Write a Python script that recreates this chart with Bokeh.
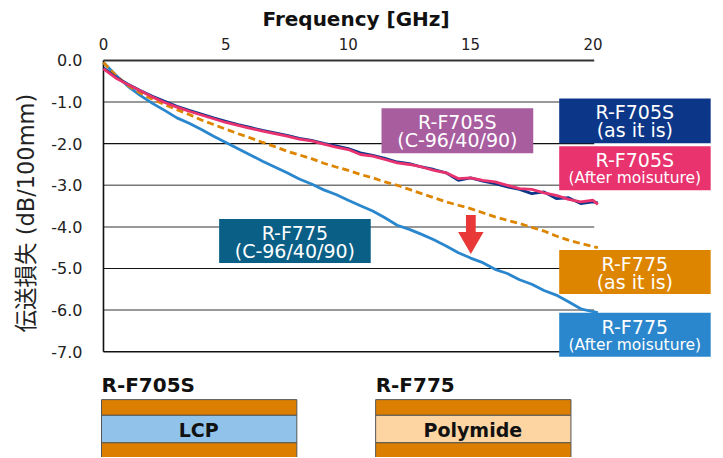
from bokeh.plotting import figure
from bokeh.models import Range1d, FixedTicker, Title, ColumnDataSource
from bokeh.core.properties import value
from bokeh.embed import file_html
from bokeh.resources import INLINE

# ---------------- data ----------------
freq = [0.0, 0.5, 1.0, 1.5, 2.0, 2.5, 3.0, 3.5, 4.0, 4.5, 5.0, 5.5, 6.0, 6.5,
        7.0, 7.5, 8.0, 8.5, 9.0, 9.5, 10.0, 10.5, 11.0, 11.5, 12.0, 12.5,
        13.0, 13.5, 14.0, 14.5, 15.0, 15.5, 16.0, 16.5, 17.0, 17.5, 18.0,
        18.5, 19.0, 19.5, 20.0, 20.2]

f705s_as_is = [-0.18, -0.40, -0.57, -0.72, -0.86, -0.98, -1.10, -1.20, -1.29,
               -1.38, -1.46, -1.54, -1.61, -1.68, -1.74, -1.80, -1.87, -1.92,
               -1.99, -2.05, -2.12, -2.22, -2.28, -2.35, -2.44, -2.48, -2.56,
               -2.62, -2.70, -2.88, -2.82, -2.90, -2.96, -3.04, -3.10, -3.20,
               -3.16, -3.32, -3.30, -3.44, -3.40, -3.42]

f705s_moist = [-0.20, -0.42, -0.58, -0.73, -0.88, -1.01, -1.12, -1.22, -1.31,
               -1.40, -1.49, -1.56, -1.63, -1.70, -1.76, -1.82, -1.89, -1.93,
               -2.01, -2.08, -2.14, -2.26, -2.30, -2.38, -2.46, -2.50, -2.56,
               -2.64, -2.70, -2.84, -2.82, -2.88, -2.92, -3.00, -3.08, -3.10,
               -3.18, -3.24, -3.34, -3.40, -3.36, -3.46]

f775_as_is = [-0.05, -0.36, -0.60, -0.78, -0.93, -1.06, -1.18, -1.30, -1.43,
              -1.54, -1.65, -1.76, -1.86, -1.97, -2.07, -2.18, -2.27, -2.36,
              -2.47, -2.56, -2.64, -2.74, -2.82, -2.92, -3.00, -3.10, -3.20,
              -3.30, -3.40, -3.48, -3.56, -3.66, -3.76, -3.84, -3.92, -4.01,
              -4.10, -4.22, -4.32, -4.40, -4.47, -4.50]

f775_moist = [-0.05, -0.35, -0.62, -0.84, -1.03, -1.20, -1.38, -1.51, -1.66,
              -1.82, -1.97, -2.12, -2.27, -2.42, -2.56, -2.70, -2.85, -2.97,
              -3.11, -3.22, -3.36, -3.49, -3.62, -3.78, -3.96, -4.06, -4.18,
              -4.31, -4.46, -4.62, -4.75, -4.86, -5.02, -5.12, -5.27, -5.38,
              -5.53, -5.64, -5.80, -5.97, -6.04, -6.06]

x_ticks = [0, 5, 10, 15, 20]
y_ticks = [0, -1, -2, -3, -4, -5, -6, -7]
y_tick_labels = ["0.0", "-1.0", "-2.0", "-3.0", "-4.0", "-5.0", "-6.0", "-7.0"]

x_title = "Frequency [GHz]"
y_title = "伝送損失 (dB/100mm)"

C_NAVY = "#0c3789"
C_PINK = "#e8336f"
C_ORANGE = "#de8500"
C_BLUE = "#2a87cd"
C_PURPLE = "#a85d9f"
C_TEAL = "#0a5f87"
C_RED = "#e83838"
C_COPPER = "#dc7f00"
C_LCP = "#91c3ea"
C_PI = "#fcd5a2"

FONT = "DejaVu Sans, Noto Sans CJK JP"

# ---------------- figure ----------------
p = figure(width=719, height=457,
           x_range=Range1d(-0.122, 25.17), y_range=Range1d(-9.544, 0.072),
           x_axis_location="above", output_backend="svg", toolbar_location=None,
           min_border_left=98, min_border_right=0, min_border_top=56,
           min_border_bottom=0)
p.outline_line_color = None
p.xgrid.visible = False
p.ygrid.visible = False
p.background_fill_color = "white"

xa = p.xaxis[0]
xa.ticker = FixedTicker(ticks=x_ticks)
xa.axis_line_color = None
xa.major_tick_line_color = None
xa.minor_tick_line_color = None
xa.major_label_text_font = FONT
xa.major_label_text_font_size = "15px"
xa.major_label_text_color = "#222222"
xa.major_label_standoff = 2

ya = p.yaxis[0]
ya.ticker = FixedTicker(ticks=y_ticks)
ya.major_label_overrides = {t: s for t, s in zip(y_ticks, y_tick_labels)}
ya.axis_line_color = None
ya.major_tick_line_color = None
ya.minor_tick_line_color = None
ya.major_label_text_font = FONT
ya.major_label_text_font_size = "16px"
ya.major_label_text_color = "#222222"
ya.major_label_standoff = 12

# axis titles
p.add_layout(Title(text=x_title, align="left", offset=162, standoff=8,
                   text_font=FONT, text_font_style="bold",
                   text_font_size="20px", text_color="#111111"), "above")
p.add_layout(Title(text=y_title, align="left", offset=125, standoff=20,
                   text_font=FONT, text_font_style="normal",
                   text_font_size="22.5px", text_color="#222222"), "left")

# grid lines (0 .. -7) and axis frame lines
grid_src = ColumnDataSource(dict(
    x0=[0] * 8, x1=[20.05] * 8, y=y_ticks,
    color=["#333333", "#777777", "#111111", "#777777", "#777777", "#111111", "#777777", "#111111"],
    w=[2, 1.5, 1.2, 1.5, 1.5, 1.2, 1.5, 1.5]))
p.segment(x0="x0", y0="y", x1="x1", y1="y", source=grid_src,
          line_color="color", line_width="w")
p.segment(x0=[0], y0=[0], x1=[0], y1=[-7], line_color="#111111", line_width=1.6)

# curves
p.line(freq, f775_moist, line_color=C_BLUE, line_width=2.8)
p.line(freq, f775_as_is, line_color=C_ORANGE, line_width=2.8, line_dash="7 4")
p.line(freq, f705s_as_is, line_color=C_NAVY, line_width=2.8)
p.line(freq, f705s_moist, line_color=C_PINK, line_width=2.8)

# red arrow
p.patch([14.81, 15.21, 15.21, 15.53, 15.01, 14.49, 14.81],
        [-3.717, -3.717, -4.125, -4.125, -4.652, -4.125, -4.125],
        fill_color=C_RED, line_color=None)

# legend boxes
box_left = [18.62, 18.62, 18.62, 18.62, 11.36, 4.725]
box_right = [24.81, 24.81, 24.81, 24.81, 17.56, 10.92]
box_top = [-0.911, -2.062, -4.556, -6.067, -1.151, -3.813]
box_bottom = [-1.990, -3.118, -5.612, -7.122, -2.230, -4.868]
box_color = [C_NAVY, C_PINK, C_ORANGE, C_BLUE, C_PURPLE, C_TEAL]
p.quad(left=box_left, right=box_right, top=box_top, bottom=box_bottom,
       fill_color=box_color, line_color=None)

line1_x = [21.71, 21.71, 21.71, 21.71, 14.46, 7.82]
line1_y = [-1.247, -2.398, -4.892, -6.403, -1.487, -4.149]
line1_t = ["R-F705S", "R-F705S", "R-F775", "R-F775", "R-F705S", "R-F775"]
p.text(x=line1_x, y=line1_y, text=line1_t, text_color="white",
       text_font=value(FONT), text_font_size="19px",
       text_align="center", text_baseline="middle")

line2a_x = [21.71, 21.71, 14.46, 7.82]
line2a_y = [-1.679, -5.324, -1.918, -4.580]
line2a_t = ["(as it is)", "(as it is)", "(C-96/40/90)", "(C-96/40/90)"]
p.text(x=line2a_x, y=line2a_y, text=line2a_t, text_color="white",
       text_font=value(FONT), text_font_size="19px",
       text_align="center", text_baseline="middle")

line2b_x = [21.71, 21.71]
line2b_y = [-2.830, -6.835]
line2b_t = ["(After moisuture)", "(After moisuture)"]
p.text(x=line2b_x, y=line2b_y, text=line2b_t, text_color="white",
       text_font=value(FONT), text_font_size="15.5px",
       text_align="center", text_baseline="middle")

# layer diagrams below the chart
st_left = [-0.081, -0.081, -0.081, 11.12, 11.12, 11.12]
st_right = [7.90, 7.90, 7.90, 19.10, 19.10, 19.10]
st_top = [-8.153, -8.53, -9.19, -8.153, -8.53, -9.19]
st_bottom = [-8.53, -9.19, -9.80, -8.53, -9.19, -9.80]
st_color = [C_COPPER, C_LCP, C_COPPER, C_COPPER, C_PI, C_COPPER]
p.quad(left=st_left, right=st_right, top=st_top, bottom=st_bottom,
       fill_color=st_color, line_color="#555555", line_width=1)

p.text(x=[-0.081, 11.12], y=[-7.80, -7.80], text=["R-F705S", "R-F775"],
       text_color="#111111", text_font=value(FONT), text_font_style="bold",
       text_font_size="20px", text_align="left", text_baseline="middle")
p.text(x=[3.89, 15.09], y=[-8.873, -8.873], text=["LCP", "Polymide"],
       text_color="#111111", text_font=value(FONT), text_font_style="bold",
       text_font_size="19px", text_align="center", text_baseline="middle")

open("out.html", "w").write(file_html(p, INLINE))
